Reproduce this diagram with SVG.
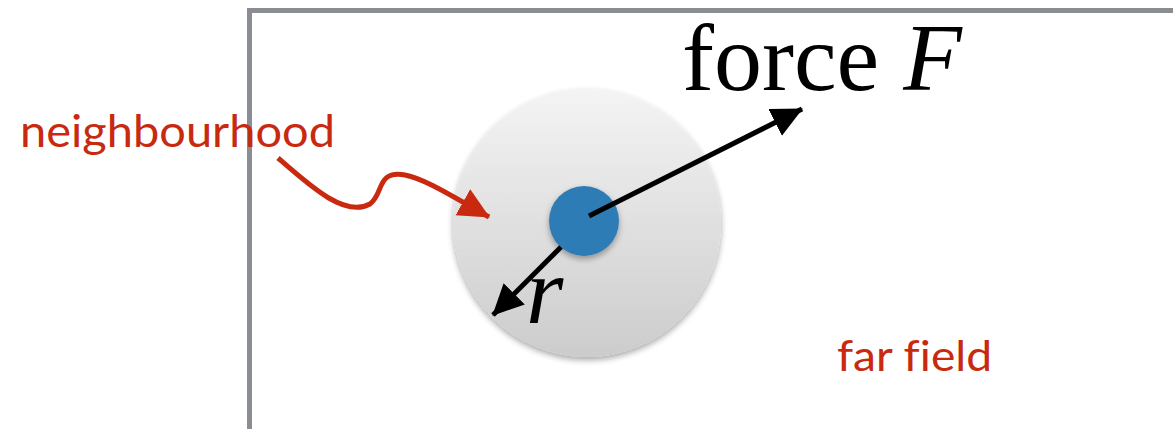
<svg xmlns="http://www.w3.org/2000/svg" width="1173" height="429" viewBox="0 0 1173 429">
<style>
.red{fill:#c8290f;font-family:Lato,"Open Sans",sans-serif;font-variant-ligatures:none}
.serif{font-family:"Liberation Serif","Times New Roman",serif;fill:#000}
</style>
<defs>
<linearGradient id="g" x1="0" y1="0" x2="0" y2="1">
<stop offset="0" stop-color="#f4f4f4"/>
<stop offset="1" stop-color="#cccccc"/>
</linearGradient>
<filter id="sh" x="-20%" y="-20%" width="140%" height="140%">
<feGaussianBlur in="SourceAlpha" stdDeviation="3"/>
<feOffset dx="0" dy="3"/>
<feComponentTransfer><feFuncA type="linear" slope="0.35"/></feComponentTransfer>
<feMerge><feMergeNode/><feMergeNode in="SourceGraphic"/></feMerge>
</filter>
<marker id="ak" markerWidth="7" markerHeight="7" refX="6" refY="3" orient="auto" markerUnits="strokeWidth">
<path d="M0,0 L6.2,3 L0,6 Z" fill="#000"/>
</marker>
<marker id="ar" markerWidth="7" markerHeight="7" refX="6" refY="3" orient="auto" markerUnits="strokeWidth">
<path d="M0,0 L6.2,3 L0,6 Z" fill="#c8290f"/>
</marker>
</defs>
<rect id="frame" x="249.5" y="10.5" width="940" height="440" fill="none" stroke="#8a8d91" stroke-width="5"/>
<g id="neighbourhood-disc">
<circle cx="587" cy="223" r="134" fill="url(#g)" filter="url(#sh)"/>
</g>
<g id="particle">
<circle cx="584" cy="221" r="35" fill="#2f7bb6" filter="url(#sh)"/>
</g>
<g id="connectors">
<line x1="589" y1="216" x2="802" y2="109" stroke="#000" stroke-width="5" marker-end="url(#ak)"/>
<line x1="561" y1="247" x2="493" y2="315" stroke="#000" stroke-width="5" marker-end="url(#ak)"/>
<path d="M278,158 C310,186 345,218 370,204 C384,194 376,170 405,175 C425,179 450,195 489,217" fill="none" stroke="#c8290f" stroke-width="5" marker-end="url(#ar)"/>
</g>
<g id="labels">
<text class="red" x="20" y="147" font-size="44" textLength="315" lengthAdjust="spacingAndGlyphs">neighbourhood</text>
<text class="red" x="837" y="371" font-size="42" textLength="155" lengthAdjust="spacingAndGlyphs">far field</text>
<text class="serif" x="682" y="90" font-size="96">force <tspan font-style="italic">F</tspan></text>
<text class="serif" x="526" y="323" font-size="96" font-style="italic">r</text>
</g>
</svg>
